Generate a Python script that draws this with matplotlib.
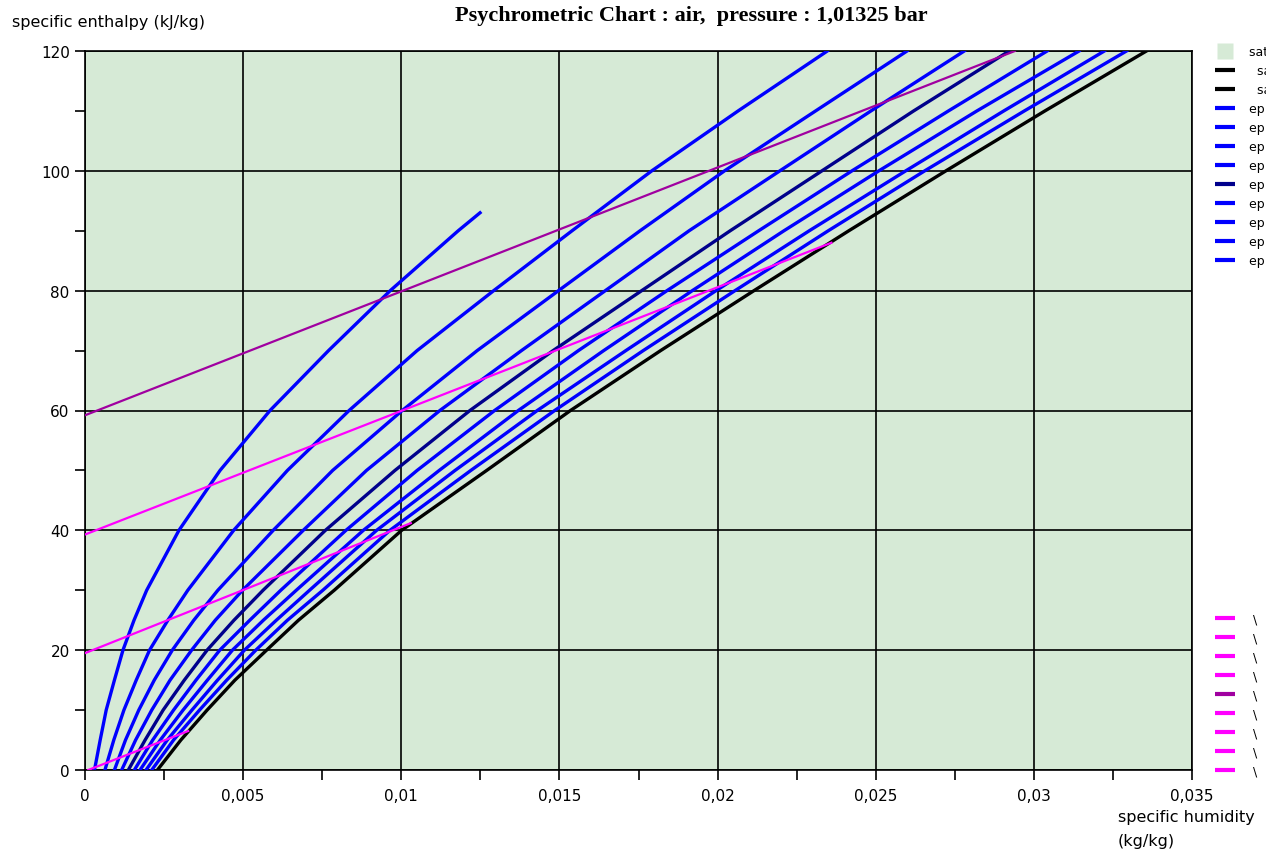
import matplotlib.pyplot as plt
from matplotlib.lines import Line2D
from matplotlib.ticker import MultipleLocator, FuncFormatter

plt.rcParams['font.family'] = ['DejaVu Sans']

h_levels = [0, 5, 10, 15, 20, 25, 30, 40, 50, 60, 70, 80, 90, 100, 110, 120]
h_levels_rh10 = [0, 5, 10, 15, 20, 25, 30, 40, 50, 60, 70, 80, 90, 93]

# specific humidity (g/kg) of each relative humidity curve at those levels
rh10 = [0.30, 0.48, 0.67, 0.93, 1.20, 1.55, 1.95, 2.97, 4.27, 5.85, 7.70, 9.65, 11.80, 12.49]
rh20 = [0.63, 0.91, 1.23, 1.62, 2.04, 2.62, 3.25, 4.70, 6.40, 8.35, 10.50, 12.92, 15.40, 17.92, 20.65, 23.47]
rh30 = [0.93, 1.28, 1.70, 2.19, 2.76, 3.44, 4.20, 5.95, 7.83, 10.03, 12.40, 14.97, 17.55, 20.22, 23.10, 25.99]
rh40 = [1.16, 1.60, 2.11, 2.69, 3.37, 4.12, 4.98, 6.90, 8.90, 11.22, 13.80, 16.45, 19.10, 21.97, 24.85, 27.80]
rh50 = [1.37, 1.90, 2.47, 3.14, 3.86, 4.71, 5.63, 7.60, 9.80, 12.17, 14.80, 17.60, 20.40, 23.30, 26.20, 29.22]
rh60 = [1.56, 2.14, 2.80, 3.51, 4.26, 5.21, 6.19, 8.25, 10.50, 12.95, 15.60, 18.40, 21.30, 24.25, 27.30, 30.42]
rh70 = [1.74, 2.38, 3.10, 3.87, 4.66, 5.64, 6.68, 8.80, 11.20, 13.70, 16.40, 19.20, 22.10, 25.10, 28.20, 31.43]
rh80 = [1.93, 2.60, 3.38, 4.19, 5.04, 6.05, 7.10, 9.22, 11.70, 14.30, 17.10, 19.95, 22.90, 25.95, 29.05, 32.23]
rh90 = [2.11, 2.80, 3.62, 4.48, 5.40, 6.40, 7.52, 9.64, 12.20, 14.85, 17.65, 20.55, 23.50, 26.55, 29.70, 32.93]
sat = [2.29, 3.03, 3.86, 4.74, 5.74, 6.75, 7.88, 10.01, 12.70, 15.35, 18.20, 21.15, 24.15, 27.22, 30.35, 33.56]

# straight lines (end points): specific humidity (g/kg) and enthalpy (kJ/kg)
iso_x = [[0.10, 3.26], [0.0, 10.3], [0.0, 23.6], [0.0, 29.4]]
iso_h = [[0.0, 6.5], [19.5, 41.2], [39.3, 88.0], [59.2, 120.0]]
iso_colors = ['#FF00FF', '#FF00FF', '#FF00FF', '#A000A0']

bg = '#D6EAD6'
blue = '#0000FF'
navy = '#00008C'
rh_colors = [blue, blue, blue, blue, navy, blue, blue, blue, blue]

fig = plt.figure(figsize=(12.66, 8.54), dpi=100)
ax = fig.add_axes([85 / 1266, 1 - 771 / 854, 1107 / 1266, 719 / 854])
ax.set_facecolor(bg)

curves = [rh10, rh20, rh30, rh40, rh50, rh60, rh70, rh80, rh90]
for i, c in enumerate(curves):
    hh = h_levels_rh10 if i == 0 else h_levels
    ax.plot([v / 1000 for v in c], hh, color=rh_colors[i], lw=2.4, zorder=3)
ax.plot([v / 1000 for v in sat], h_levels, color='black', lw=2.4, zorder=3)

for xs, hs, col in zip(iso_x, iso_h, iso_colors):
    ax.plot([v / 1000 for v in xs], hs, color=col, lw=1.6, zorder=4)

ax.set_xlim(0, 0.035)
ax.set_ylim(0, 120)
ax.xaxis.set_major_locator(MultipleLocator(0.005))
ax.xaxis.set_minor_locator(MultipleLocator(0.0025))
ax.yaxis.set_major_locator(MultipleLocator(20))
ax.yaxis.set_minor_locator(MultipleLocator(10))
fmt = FuncFormatter(lambda v, p: ('%g' % round(v, 4)).replace('.', ','))
ax.xaxis.set_major_formatter(fmt)
ax.yaxis.set_major_formatter(fmt)
ax.grid(True, which='major', color='black', lw=1.2)
ax.set_axisbelow(True)
ax.tick_params(which='both', direction='out', length=7, width=1.2, labelsize=11)
ax.tick_params(axis='x', pad=6)
ax.tick_params(axis='y', pad=4)
for s in ax.spines.values():
    s.set_linewidth(1.2)

fig.text(691 / 1266, 1 - 16 / 854, 'Psychrometric Chart : air,  pressure : 1,01325 bar',
         ha='center', va='center', family='Liberation Serif', weight='bold', size=16)
fig.text(12 / 1266, 1 - 22 / 854, 'specific enthalpy (kJ/kg)', ha='left', va='center', size=11.5)
fig.text(1118 / 1266, 1 - 818 / 854, 'specific humidity', ha='left', va='center', size=11.5)
fig.text(1118 / 1266, 1 - 842 / 854, '(kg/kg)', ha='left', va='center', size=11.5)

# legends, partly cut off by the right edge of the picture
rh_labels = ['ep = %d %%' % p for p in range(10, 100, 10)]
h1 = [Line2D([], [], ls='none', marker='s', markersize=12, markerfacecolor=bg, markeredgecolor='none'),
      Line2D([], [], color='black', lw=3, solid_capstyle='butt'),
      Line2D([], [], color='black', lw=3, solid_capstyle='butt')]
h1 += [Line2D([], [], color=c, lw=3, solid_capstyle='butt') for c in rh_colors]
l1 = ['saturation zone', '  saturation', '  saturation'] + rh_labels
leg1 = ax.legend(h1, l1, loc='upper left', bbox_to_anchor=(1204 / 1266, 1 - 35 / 854),
                 bbox_transform=fig.transFigure, frameon=False, fontsize=9,
                 handlelength=1.6, handletextpad=1.1, labelspacing=0.48)
ax.add_artist(leg1)

iso_leg_colors = ['#FF00FF'] * 4 + ['#A000A0'] + ['#FF00FF'] * 4
h2 = [Line2D([], [], color=c, lw=3, solid_capstyle='butt') for c in iso_leg_colors]
l2 = ['\\    t = %d' % t for t in range(0, 90, 10)]
ax.legend(h2, l2, loc='upper left', bbox_to_anchor=(1204 / 1266, 1 - 602 / 854),
          bbox_transform=fig.transFigure, frameon=False, fontsize=9,
          handlelength=1.6, handletextpad=1.4, labelspacing=0.48)

fig.savefig('out.png', dpi=100)
